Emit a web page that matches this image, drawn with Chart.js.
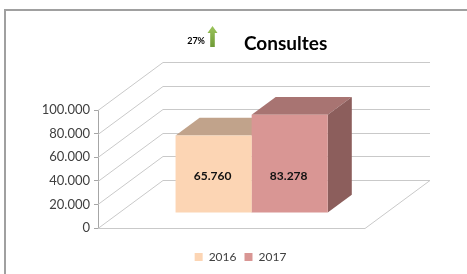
<!DOCTYPE html>
<html><head><meta charset="utf-8">
<script src="https://cdn.jsdelivr.net/npm/chart.js@4/dist/chart.umd.min.js"></script>
<style>html,body{margin:0;padding:0;background:#fff;overflow:hidden}#wrap{width:467px;height:274px;position:relative}</style>
</head><body><div id="wrap"><canvas id="c" width="467" height="274"></canvas></div>
<script>
// ---- data ----
const categories = ['Consultes'];
const seriesNames = ['2016', '2017'];
const values2016 = [65760];
const values2017 = [83278];
const yTickValues = [0, 20000, 40000, 60000, 80000, 100000];
const titleText = 'Consultes';
const changeText = '27%';

// ---- style ----
const FONT = 'Lato, "Open Sans", sans-serif';
const frontColors = ['#FCD5B4', '#D99694'];
const topColors = ['#C1A38B', '#A87472'];
const sideColors = ['#D2B094', '#8C5E5C'];
const GRID = '#c9c9c9';
const DEPTH_X = 65, DEPTH_Y = 48;      // wall / floor depth projection
const BAR_OFFSET = 0.31, BAR_DEPTH = 0.37;
const LEGEND_SHIFT = 9;

const fmt = v => String(v).replace(/\B(?=(\d{3})+(?!\d))/g, '.');

function poly(ctx, pts, fill) {
  ctx.beginPath();
  ctx.moveTo(pts[0][0], pts[0][1]);
  for (let i = 1; i < pts.length; i++) ctx.lineTo(pts[i][0], pts[i][1]);
  ctx.closePath();
  ctx.fillStyle = fill;
  ctx.fill();
}

const threeD = {
  id: 'threeD',
  afterLayout(chart) {
    if (chart.legend) {
      chart.legend.left += LEGEND_SHIFT;
      chart.legend.right += LEGEND_SHIFT;
    }
  },
  beforeDraw(chart) {
    const ctx = chart.ctx;
    ctx.save();
    // outer frame
    ctx.strokeStyle = '#a0a0a0';
    ctx.lineWidth = 2;
    ctx.strokeRect(5, 10, 700, 700);
    // title
    ctx.fillStyle = '#000';
    ctx.font = 'bold 19px ' + FONT;
    ctx.textAlign = 'left';
    ctx.textBaseline = 'alphabetic';
    ctx.fillText(titleText, 244, 50);
    ctx.font = 'bold 9px ' + FONT;
    ctx.textAlign = 'right';
    ctx.textBaseline = 'middle';
    ctx.fillText(changeText, 205, 41);
    // green arrow
    const g = ctx.createLinearGradient(0, 26, 0, 47);
    g.addColorStop(0, '#9cc55c');
    g.addColorStop(1, '#6f9a36');
    poly(ctx, [[212.5, 26], [217.5, 33], [214.8, 33], [214.8, 47], [210.2, 47], [210.2, 33], [207.5, 33]], g);
    ctx.restore();
  },
  beforeDatasetsDraw(chart) {
    const ctx = chart.ctx;
    const a = chart.chartArea;
    const ys = chart.scales.y;
    ctx.save();
    ctx.strokeStyle = GRID;
    ctx.lineWidth = 1;
    ctx.beginPath();
    yTickValues.forEach(v => {
      const py = Math.round(ys.getPixelForValue(v)) + 0.5;
      ctx.moveTo(a.left, py);
      ctx.lineTo(a.left + DEPTH_X, py - DEPTH_Y);
      ctx.lineTo(a.right + DEPTH_X, py - DEPTH_Y);
    });
    const b = Math.round(a.bottom) + 0.5;
    ctx.moveTo(a.left, b);
    ctx.lineTo(a.right, b);
    ctx.lineTo(a.right + DEPTH_X, b - DEPTH_Y);
    ctx.stroke();
    // bar top & side faces
    const ox = DEPTH_X * BAR_OFFSET, oy = -DEPTH_Y * BAR_OFFSET;
    const bx = DEPTH_X * BAR_DEPTH, by = -DEPTH_Y * BAR_DEPTH;
    chart.data.datasets.forEach((ds, i) => {
      chart.getDatasetMeta(i).data.forEach(el => {
        const l = el.x - el.width / 2 + ox, r = el.x + el.width / 2 + ox;
        const t = el.y + oy, bt = el.base + oy;
        poly(ctx, [[l, t], [r, t], [r + bx, t + by], [l + bx, t + by]], topColors[i]);
        poly(ctx, [[r, t], [r + bx, t + by], [r + bx, bt + by], [r, bt]], sideColors[i]);
      });
    });
    ctx.translate(ox, oy);
  },
  afterDatasetsDraw(chart) {
    const ctx = chart.ctx;
    ctx.restore();
    const ys = chart.scales.y;
    const ox = DEPTH_X * BAR_OFFSET, oy = -DEPTH_Y * BAR_OFFSET;
    const minV = Math.min(...values2016, ...values2017);
    ctx.save();
    ctx.fillStyle = '#111';
    ctx.font = 'bold 12px ' + FONT;
    ctx.textAlign = 'center';
    ctx.textBaseline = 'middle';
    chart.data.datasets.forEach((ds, i) => {
      chart.getDatasetMeta(i).data.forEach((el, j) => {
        const mid = (el.base + ys.getPixelForValue(minV)) / 2;
        ctx.fillText(fmt(ds.data[j]), el.x + ox - 1, mid + oy + 2);
      });
    });
    ctx.restore();
  }
};

new Chart(document.getElementById('c'), {
  type: 'bar',
  data: {
    labels: categories,
    datasets: [
      { label: seriesNames[0], data: values2016, backgroundColor: frontColors[0], borderWidth: 0 },
      { label: seriesNames[1], data: values2017, backgroundColor: frontColors[1], borderWidth: 0 }
    ]
  },
  options: {
    responsive: false,
    animation: false,
    devicePixelRatio: 1,
    events: [],
    layout: { padding: { top: 110, right: 102, bottom: 1, left: 0 } },
    datasets: { bar: { categoryPercentage: 0.57, barPercentage: 1, clip: false } },
    scales: {
      x: {
        display: true,
        grid: { display: false },
        border: { display: false },
        ticks: { display: false },
        afterFit: s => { s.height = 15; }
      },
      y: {
        min: 0, max: 100000,
        afterBuildTicks: s => { s.ticks = yTickValues.map(v => ({ value: v })); },
        ticks: { callback: v => fmt(v), color: '#404040', font: { family: FONT, size: 13 }, padding: 4 },
        grid: { drawOnChartArea: false, tickLength: 4, color: '#a6a6a6' },
        border: { color: '#a6a6a6' },
        afterFit: s => { s.width = 98; }
      }
    },
    plugins: {
      title: { display: false },
      tooltip: { enabled: false },
      legend: {
        position: 'bottom',
        fullSize: false,
        labels: { boxWidth: 8, boxHeight: 8, padding: 8, color: '#404040', font: { family: FONT, size: 12 } }
      }
    }
  },
  plugins: [threeD]
});
</script></body></html>
